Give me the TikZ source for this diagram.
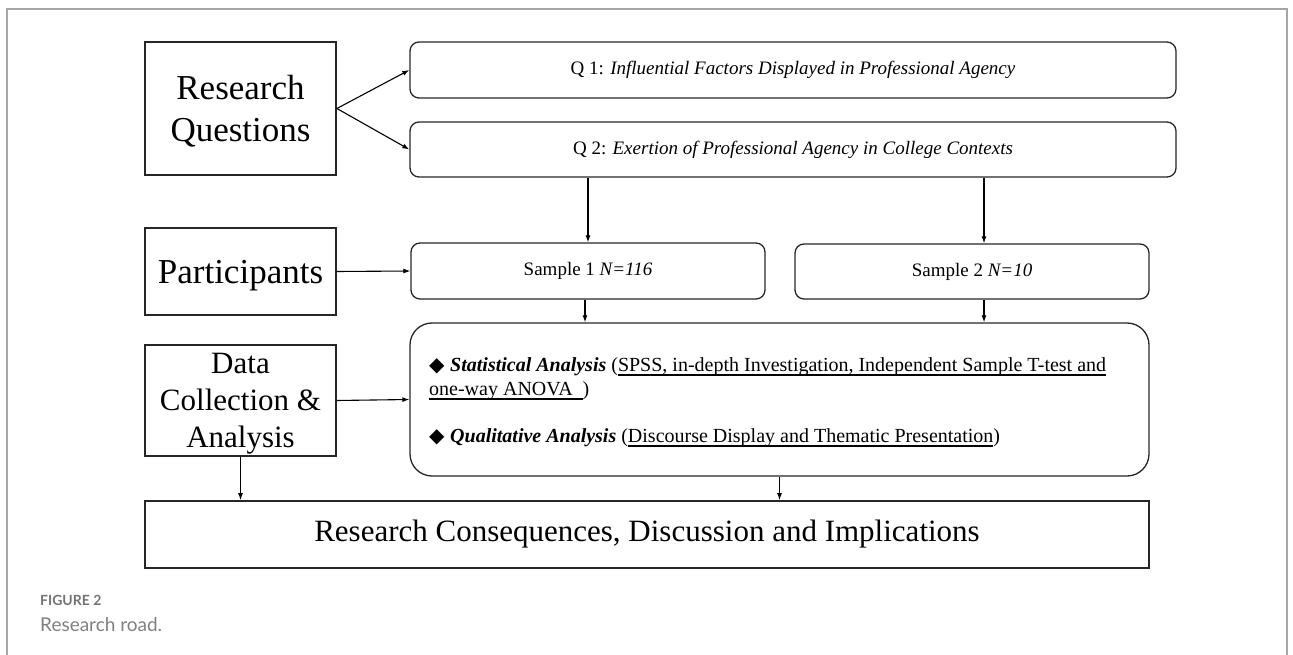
\documentclass[tikz,border=0pt]{standalone}
\usepackage{fontspec}
\setmainfont{Liberation Serif}
\newfontfamily\capfont{Lato}
\newfontfamily\symfont{DejaVu Sans}
\usetikzlibrary{arrows.meta}
\tikzset{
  stage/.style={draw=black!85, line width=1.8pt, inner sep=0pt, align=center,
    font=\fontsize{35}{42}\selectfont},
  item/.style={draw=black!85, line width=1.3pt, rounded corners=9pt, inner sep=0pt,
    align=center, font=\fontsize{19}{23}\selectfont},
  line/.style={anchor=base west, inner sep=0pt, font=\fontsize{20}{24}\selectfont},
  flow/.style={line width=1.1pt, -{Latex[length=7pt,width=5pt]}},
}
\newcommand{\dmd}{\makebox[21pt][l]{\symfont\fontsize{20}{22}\selectfont ◆}}
\newcommand{\uln}[1]{\setbox0\hbox{#1}\rlap{\vrule height -3.4pt depth 4.9pt width \wd0}\box0}

\begin{document}
\begin{tikzpicture}[x=1pt, y=-1pt]
  \useasboundingbox (0,0) rectangle (1293,655);

  % page frame
  \draw [black!35, line width=1.2pt] (7,655) -- (7,9) -- (1287,9) -- (1287,655);

  % left column
  \node [stage, text depth=-2pt, minimum width=191, minimum height=133] (rq) at (240.5,108.5)
    {Research\\Questions};
  \node [stage, text depth=-3.4pt, minimum width=191, minimum height=87] (part) at (240.5,271.5)
    {Participants};
  \node [stage, text depth=-2.5pt, minimum width=191, minimum height=111, font=\fontsize{31}{37}\selectfont]
    (dca) at (240.5,400.5) {Data\\Collection \&\\Analysis};

  % questions and samples
  \node [item, minimum width=766, minimum height=56] (qone) at (793,70)
    {Q 1: \textit{Influential Factors Displayed in Professional Agency}};
  \node [item, minimum width=766, minimum height=55] (qtwo) at (793,149.5)
    {Q 2: \textit{Exertion of Professional Agency in College Contexts}};
  \node [item, minimum width=354, minimum height=56] (sone) at (588,271) {Sample 1 \textit{N=116}};
  \node [item, minimum width=354, minimum height=55] (stwo) at (972,271.5) {Sample 2 \textit{N=10}};

  % analysis box
  \node [item, rounded corners=22pt, minimum width=739, minimum height=153] (ana) at (779.5,399.5) {};
  \node [line] (sa1) at (429,371) {\dmd\textbf{\textit{Statistical Analysis}}
    (\uln{SPSS, in-depth Investigation, Independent Sample T-test and}};
  \node [line] (sa2) at (429,395) {\uln{one-way ANOVA\ \ })};
  \node [line] (qa) at (429,442) {\dmd\textbf{\textit{Qualitative Analysis}}
    (\uln{Discourse Display and Thematic Presentation})};

  % result
  \node [stage, line width=1.6pt, minimum width=1004, minimum height=67, font=\fontsize{31}{37}\selectfont]
    (rcdi) at (647,534.5) {Research Consequences, Discussion and Implications};

  % connectors
  \draw [flow] (rq.east) -- (qone.west);
  \draw [flow] (rq.east) -- (qtwo.west);
  \draw [flow] (part.east) -- (sone.west);
  \draw [flow] (dca.east) -- (ana.west);
  \draw [flow] (sone.north |- qtwo.south) -- (sone.north);
  \draw [flow] ([xshift=12pt]stwo.north |- qtwo.south) -- ([xshift=12pt]stwo.north);
  \draw [flow] ([xshift=-3pt]sone.south) -- ([xshift=-3pt]sone.south |- ana.north);
  \draw [flow] ([xshift=12pt]stwo.south) -- ([xshift=12pt]stwo.south |- ana.north);
  \draw [flow] (dca.south) -- (dca.south |- rcdi.north);
  \draw [flow] (ana.south) -- (ana.south |- rcdi.north);

  % caption
  \node [anchor=base west, inner sep=0pt, text=black!55, font=\capfont\bfseries\fontsize{14}{17}\selectfont]
    (fig) at (40,605) {FIGURE 2};
  \node [anchor=base west, inner sep=0pt, text=black!50, font=\capfont\fontsize{19}{23}\selectfont]
    (cap) at (40,631) {Research road.};
\end{tikzpicture}
\end{document}
